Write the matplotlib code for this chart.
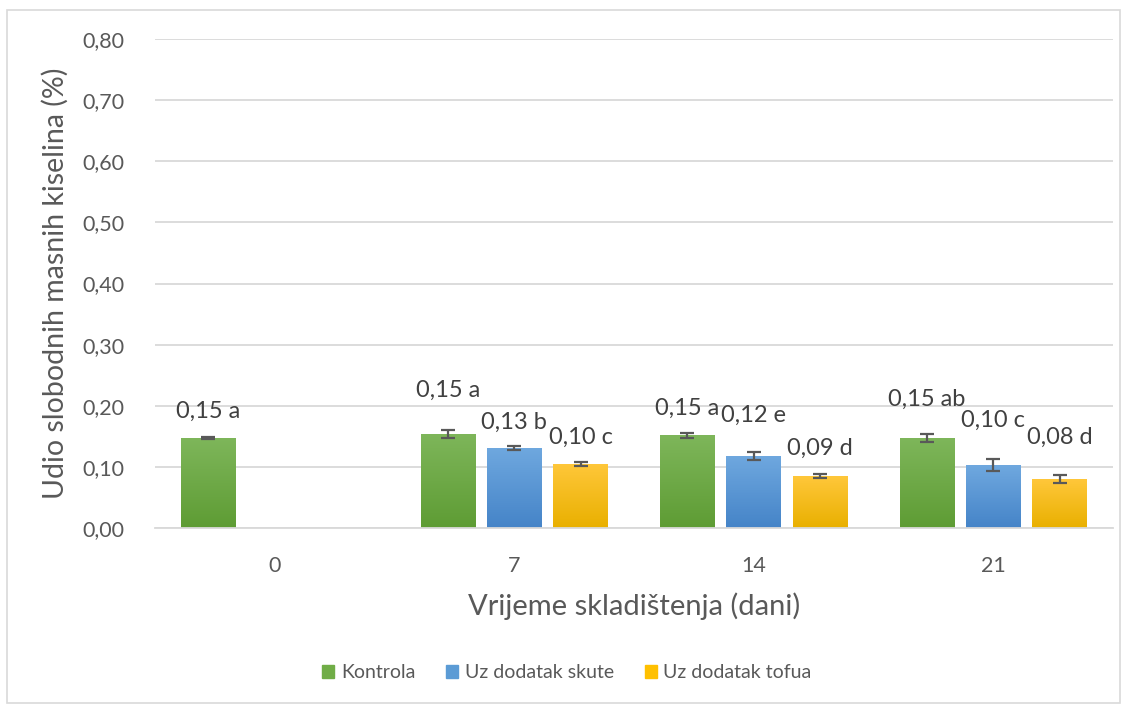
import numpy as np
import matplotlib.pyplot as plt
from matplotlib.patches import Rectangle
from matplotlib.colors import LinearSegmentedColormap

plt.rcParams['font.family'] = ['Lato', 'DejaVu Sans']

# data
days = ['0', '7', '14', '21']
series = ['Kontrola', 'Uz dodatak skute', 'Uz dodatak tofua']
kontrola = [0.147, 0.154, 0.152, 0.147]
skute = [np.nan, 0.131, 0.118, 0.103]
tofu = [np.nan, 0.105, 0.085, 0.080]
kontrola_err = [0.002, 0.006, 0.004, 0.006]
skute_err = [np.nan, 0.003, 0.007, 0.010]
tofu_err = [np.nan, 0.003, 0.003, 0.006]
kontrola_lbl = ['0,15 a', '0,15 a', '0,15 a', '0,15 ab']
skute_lbl = [None, '0,13 b', '0,12 e', '0,10 c']
tofu_lbl = [None, '0,10 c', '0,09 d', '0,08 d']

# label offsets above bar top (px), the original has hand-moved labels
kontrola_off = [27, 44, 27, 39]
skute_off = [0, 26, 41, 45]
tofu_off = [0, 26, 28, 42]

# (top, bottom) gradient colours
grads = [('#7EB65A', '#5E9C34'), ('#6FA8DF', '#4584C8'), ('#FFC73A', '#E9B000')]
legend_cols = ['#70AD47', '#5B9BD5', '#FFC000']

txt = '#595959'
grid = '#D9D9D9'

fig = plt.figure(figsize=(11.34, 7.08), dpi=100)
ax = fig.add_axes([155 / 1134, 1 - 528 / 708, (1113 - 155) / 1134, (528 - 39) / 708])

# outer chart border
fig.patches.append(Rectangle((7 / 1134, 5 / 708), (1120 - 7) / 1134, (698 - 5) / 708,
                             transform=fig.transFigure, fill=False,
                             edgecolor='#D9D9D9', lw=1.2))

x = np.arange(len(days))
width = 0.228
offsets = [-0.277, 0.0, 0.277]
# day 0 only has the control, Excel still leaves it in its slot
vals = [kontrola, skute, tofu]
errs = [kontrola_err, skute_err, tofu_err]
lbls = [kontrola_lbl, skute_lbl, tofu_lbl]
offs = [kontrola_off, skute_off, tofu_off]

ax.set_xlim(-0.5, 3.5)
ax.set_ylim(0, 0.8)

for i in range(3):
    cmap = LinearSegmentedColormap.from_list('g%d' % i, [grads[i][1], grads[i][0]])
    for j in range(len(days)):
        v = vals[i][j]
        if np.isnan(v):
            continue
        xc = x[j] + offsets[i]
        bar = ax.bar(xc, v, width, color=legend_cols[i], zorder=2)[0]
        grad = np.linspace(0, 1, 100).reshape(-1, 1)
        im = ax.imshow(grad, cmap=cmap, origin='lower', aspect='auto',
                       extent=(xc - width / 2, xc + width / 2, 0, v), zorder=2.5)
        im.set_clip_path(bar)
        ax.errorbar(xc, v, yerr=errs[i][j], fmt='none', ecolor='#595959',
                    elinewidth=1.6, capsize=5, capthick=1.6, zorder=3)
        ax.annotate(lbls[i][j], (xc, v), xytext=(0, offs[i][j] * 0.72),
                    textcoords='offset points', ha='center', va='center',
                    fontsize=17, color='#404040', zorder=4)

ax.set_xticks(x)
ax.set_xticklabels(days)
ax.set_yticks(np.arange(0, 0.81, 0.1))
ax.set_yticklabels(['%.2f' % t for t in np.arange(0, 0.81, 0.1)])
ax.set_yticklabels([l.get_text().replace('.', ',') for l in ax.get_yticklabels()])
ax.tick_params(length=0, labelsize=15.5, colors=txt)
ax.tick_params(axis='x', pad=20)
ax.tick_params(axis='y', pad=22)
ax.grid(axis='y', color=grid, lw=1.3, zorder=0)
ax.set_axisbelow(True)
for s in ['top', 'right', 'left']:
    ax.spines[s].set_visible(False)
ax.spines['bottom'].set_color(grid)
ax.spines['bottom'].set_linewidth(1.3)

ax.set_ylabel('Udio slobodnih masnih kiselina (%)', fontsize=20.5, color=txt, labelpad=10)
ax.set_xlabel('Vrijeme skladištenja (dani)', fontsize=21, color=txt, labelpad=12)

handles = [Rectangle((0, 0), 1, 1, color=c) for c in legend_cols]
fig.legend(handles, series, loc='center', bbox_to_anchor=(567 / 1134, 1 - 673 / 708),
           ncol=3, frameon=False, fontsize=14, labelcolor=txt,
           handlelength=0.6, handleheight=0.6, handletextpad=0.35, columnspacing=1.6)

fig.savefig('out.png', dpi=100)
